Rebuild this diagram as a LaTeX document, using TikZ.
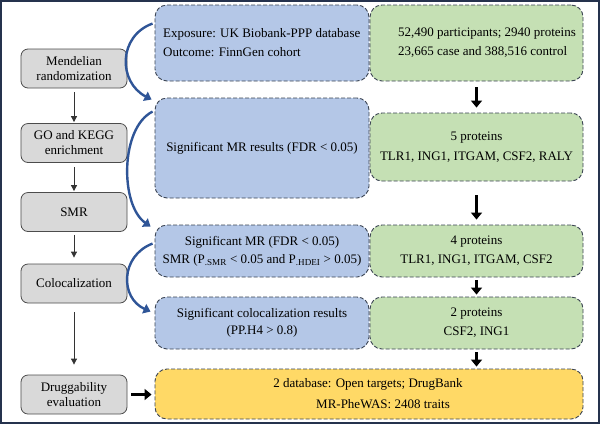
\documentclass[tikz,border=0pt]{standalone}
\usepackage{fontspec}
\setmainfont{Liberation Serif}
\usetikzlibrary{arrows.meta,calc}
\definecolor{frameblue}{HTML}{25324D}
\definecolor{grayfill}{HTML}{D9D9D9}
\definecolor{bluefill}{HTML}{B4C7E7}
\definecolor{greenfill}{HTML}{C5E0B4}
\definecolor{yellowfill}{HTML}{FFD966}
\definecolor{boxline}{HTML}{3A4352}
\definecolor{curveblue}{HTML}{2F5597}
\begin{document}
\begin{tikzpicture}[x=1bp,y=-1bp,
  every node/.style={font=\fontsize{13bp}{15bp}\selectfont, inner sep=0pt},
  graybox/.style={draw=black!70, line width=0.8bp, fill=grayfill, rounded corners=7bp, align=center, minimum width=106bp, minimum height=39bp},
  dashbox/.style={draw=boxline, line width=0.9bp, dash pattern=on 4bp off 2bp, rounded corners=12bp},
  bluebox/.style={dashbox, fill=bluefill},
  greenbox/.style={dashbox, fill=greenfill},
  yellowbox/.style={dashbox, fill=yellowfill},
  thinarrow/.style={draw=black!80, line width=0.8bp, -{Triangle[width=6bp,length=6bp]}},
  thickarrow/.style={draw=black, line width=3.5bp, -{Triangle[width=11bp,length=7bp]}},
  curvearrow/.style={draw=curveblue, line width=2.4bp, -{Triangle[width=10bp,length=7bp]}},
  txt/.style={align=center}
]
\useasboundingbox (0,0) rectangle (600,424);
\draw[frameblue, line width=2bp] (1,1) rectangle (599,423);

% left column
\node[graybox] (mr) at (74,68.5) {Mendelian\\randomization};
\node[graybox] (go) at (74,143) {GO and KEGG\\enrichment};
\node[graybox] (smr) at (74,212) {SMR};
\node[graybox] (coloc) at (74,283.5) {Colocalization};
\node[graybox] (drug) at (74,394.5) {Druggability\\evaluation};

\draw[thinarrow, shorten <=4bp, shorten >=1bp] (mr.south) -- (go.north);
\draw[thinarrow, shorten <=4bp, shorten >=1bp] (go.south) -- (smr.north);
\draw[thinarrow, shorten <=3bp, shorten >=6bp] (smr.south) -- (coloc.north);
\draw[thinarrow, shorten <=9bp, shorten >=10bp] (coloc.south) -- (drug.north);

% blue boxes
\node[bluebox, minimum width=214bp, minimum height=76bp] (b1) at (262,43) {};
\node[bluebox, minimum width=214bp, minimum height=100bp] (b2) at (262,148) {};
\node[bluebox, minimum width=214bp, minimum height=52bp] (b3) at (262,251) {};
\node[bluebox, minimum width=214bp, minimum height=52bp] (b4) at (262,323) {};

% green boxes
\node[greenbox, minimum width=213bp, minimum height=76bp] (g1) at (476.5,43) {};
\node[greenbox, minimum width=213bp, minimum height=68bp] (g2) at (476.5,147) {};
\node[greenbox, minimum width=213bp, minimum height=52bp] (g3) at (476.5,251) {};
\node[greenbox, minimum width=213bp, minimum height=52bp] (g4) at (476.5,323) {};

% yellow box
\node[yellowbox, minimum width=428bp, minimum height=50bp] (y1) at (369,394) {};

% texts
\node[anchor=west, align=left, font=\fontsize{13bp}{19bp}\selectfont] (t1) at (163,43) {Exposure: UK Biobank-PPP database\\Outcome: FinnGen cohort};
\node[anchor=west, align=left, font=\fontsize{13bp}{19bp}\selectfont] (t2) at (398,43) {52,490 participants; 2940 proteins\\23,665 case and 388,516 control};
\node[txt] (t3) at (b2.center) {Significant MR results (FDR < 0.05)};
\node[txt, font=\fontsize{13bp}{20bp}\selectfont] (t4) at (g2.center) {5 proteins\\TLR1, ING1, ITGAM, CSF2, RALY};
\node[txt, font=\fontsize{13bp}{18bp}\selectfont] (t5) at (b3.center) {Significant MR (FDR < 0.05)\\SMR (P\textsubscript{.SMR} < 0.05 and P\textsubscript{.HDEI} > 0.05)};
\node[txt, font=\fontsize{13bp}{19bp}\selectfont] (t6) at (g3.center) {4 proteins\\TLR1, ING1, ITGAM, CSF2};
\node[txt, font=\fontsize{13bp}{17bp}\selectfont] (t7) at (b4.center) {Significant colocalization results\\(PP.H4 > 0.8)};
\node[txt, font=\fontsize{13bp}{19bp}\selectfont] (t8) at (g4.center) {2 proteins\\CSF2, ING1};
\node[txt] (t9) at (368,384) {2 database: Open targets; DrugBank};
\node[txt] (t10) at (383,404) {MR-PheWAS: 2408 traits};

% thick black arrows
\draw[thickarrow, shorten <=6bp, shorten >=5bp] (g1.south) -- (g2.north);
\draw[thickarrow, shorten <=14bp, shorten >=5bp] (g2.south) -- (g3.north);
\draw[thickarrow, shorten <=3bp, shorten >=2bp] (g3.south) -- (g4.north);
\draw[thickarrow, shorten <=3bp, shorten >=2bp] (g4.south) -- (y1.north -| g4.south);
\draw[thickarrow, shorten <=4bp, shorten >=3bp] (drug.east) -- (drug.east -| y1.west);

% curved blue arrows
\draw[curvearrow] ([shift={(-2,19)}]b1.north west) .. controls (118,36) and (118,82) .. ([shift={(-3,2)}]b2.north west);
\draw[curvearrow] ([shift={(-2,14)}]b2.north west) .. controls (120,128) and (120,205) .. ([shift={(-4,2)}]b3.north west);
\draw[curvearrow] ([shift={(-2,19)}]b3.north west) .. controls (120,256) and (120,298) .. ([shift={(-4,15)}]b4.north west);
\end{tikzpicture}
\end{document}
